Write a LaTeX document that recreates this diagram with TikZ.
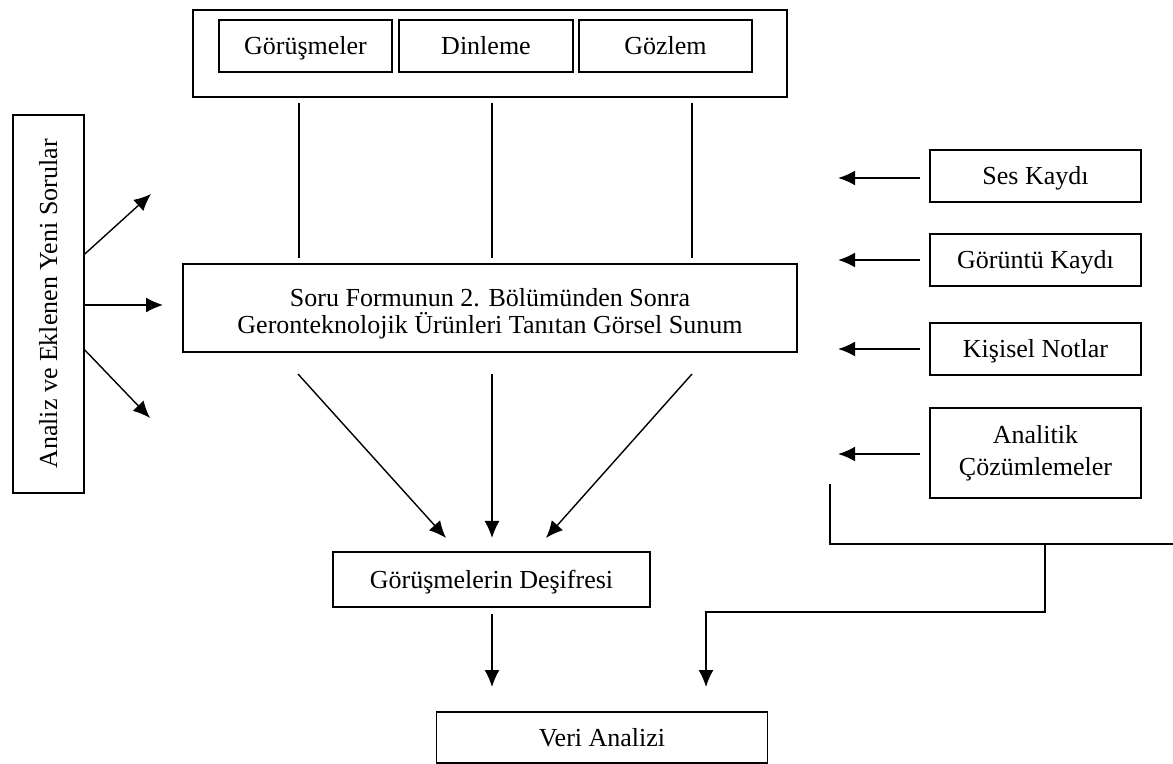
\documentclass[tikz,border=0pt]{standalone}
\usepackage{fontspec}
\setmainfont{Liberation Serif}
\usetikzlibrary{shapes,arrows.meta,calc}

\begin{document}
\begin{tikzpicture}[x=0.5pt, y=-0.5pt, font=\fontsize{13}{13.5}\selectfont]
	\tikzstyle{block} = [rectangle, draw, line width=0.8pt, inner sep=0pt, align=center]
	\tikzstyle{onerow} = [text height=9pt, text depth=0.4pt]
	\tikzstyle{sidebox} = [block, minimum width=105.5pt, minimum height=26pt]
	\tikzstyle{line} = [draw, line width=0.7pt]
	\tikzstyle{arrow} = [draw, line width=0.7pt, -{Latex[length=8.5pt,width=7.5pt]}]
	\useasboundingbox (0,0) rectangle (1173,764);
	% Place nodes
	\node [block, minimum width=297pt, minimum height=43.5pt] (methods) at (490,53.5) {};
	\node [block, onerow, minimum width=86.5pt, minimum height=26pt] (gorusme) at (305.5,46) {Görüşmeler};
	\node [block, onerow, minimum width=87pt, minimum height=26pt] (dinleme) at (486,46) {Dinleme};
	\node [block, onerow, minimum width=86.5pt, minimum height=26pt] (gozlem) at (665.5,46) {Gözlem};
	\node [block, minimum width=307pt, minimum height=44pt] (sunum) at (490,308)
		{\rule{0pt}{15pt}Soru Formunun 2. Bölümünden Sonra\\Geronteknolojik Ürünleri Tanıtan Görsel Sunum};
	\node [block, onerow, rotate=90, minimum width=189pt, minimum height=35.5pt] (sorular) at (48.5,304)
		{Analiz ve Eklenen Yeni Sorular};
	\node [block, onerow, minimum width=158.5pt, minimum height=27.5pt] (desifre) at (491.5,579.5) {Görüşmelerin Deşifresi};
	\node [block, onerow, minimum width=165.5pt, minimum height=25.5pt] (veri) at (602,737.5) {Veri Analizi};
	\node [sidebox, onerow] (ses) at (1035.5,176) {Ses Kaydı};
	\node [sidebox, onerow] (goruntu) at (1035.5,260) {Görüntü Kaydı};
	\node [sidebox, onerow] (notlar) at (1035.5,349) {Kişisel Notlar};
	\node [sidebox, minimum height=45pt, font=\fontsize{13}{16}\selectfont] (analitik) at (1035.5,453)
		{Analitik\\Çözümlemeler};
	% Free ends
	\coordinate (up1) at (299,258);
	\coordinate (up2) at (492,258);
	\coordinate (up3) at (692,258);
	\coordinate (left1) at (151,194);
	\coordinate (left2) at (163,305);
	\coordinate (left3) at (150,418);
	\coordinate (down1) at (298,374);
	\coordinate (down2) at (492,374);
	\coordinate (down3) at (692,374);
	\coordinate (in1) at (446,538);
	\coordinate (in2) at (492,538);
	\coordinate (in3) at (546,538);
	\coordinate (out) at (492,614);
	\coordinate (tip) at (492,687);
	\coordinate (bstart) at (830,484);
	\coordinate (bend) at (1173,544);
	\coordinate (bjoin) at (1045,544);
	\coordinate (btip) at (706,687);
	% Draw edges
	\path [line] ([yshift=-2.5pt]methods.south -| up1) -- (up1);
	\path [line] ([yshift=-2.5pt]methods.south -| up2) -- (up2);
	\path [line] ([yshift=-2.5pt]methods.south -| up3) -- (up3);
	\path [arrow] ([yshift=25pt]sorular.south) -- (left1);
	\path [arrow] ([yshift=-0.5pt]sorular.south) -- (left2);
	\path [arrow] ([yshift=-23pt]sorular.south) -- (left3);
	\path [arrow] (down1) -- (in1);
	\path [arrow] (down2) -- (in2);
	\path [arrow] (down3) -- (in3);
	\path [arrow] (out) -- (tip);
	\path [arrow] ([xshift=-4.5pt,yshift=-1pt]ses.west) -- ++(-41pt,0);
	\path [arrow] ([xshift=-4.5pt]goruntu.west) -- ++(-41pt,0);
	\path [arrow] ([xshift=-4.5pt]notlar.west) -- ++(-41pt,0);
	\path [arrow] ([xshift=-4.5pt,yshift=-0.5pt]analitik.west) -- ++(-41pt,0);
	\path [line] (bstart) |- (bend);
	\path [arrow] (bjoin) -- (bjoin |- 0,612) -| (btip);
\end{tikzpicture}
\end{document}
